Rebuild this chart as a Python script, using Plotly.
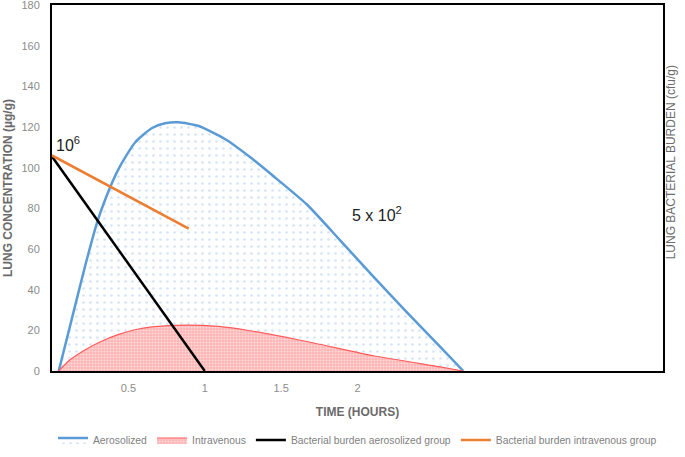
import plotly.graph_objects as go

# Time (hours) and lung concentration (µg/g)
aero_time = [0.044, 0.131, 0.218, 0.295, 0.349, 0.437, 0.545, 0.655, 0.740, 0.829,
             0.960, 1.135, 1.309, 1.447, 1.667, 1.885, 2.104, 2.322, 2.540, 2.693]
aero_conc = [0, 26, 52, 73, 84.5, 99.5, 112.5, 119.5, 121.8, 122.3,
             120.5, 114, 104.5, 96, 82, 64.4, 46.4, 29, 12, 0]

iv_time = [0.044, 0.118, 0.218, 0.314, 0.437, 0.543, 0.655, 0.873, 1.091, 1.296,
           1.667, 2.104, 2.540, 2.690]
iv_conc = [0, 5.5, 10.5, 14.3, 18, 20.3, 21.7, 22.6, 21.9, 19.8,
           14.5, 7.5, 2, 0]

# Bacterial burden lines (drawn on the secondary axis)
burden_aero_time = [0, 1.0]
burden_aero_val = [105.5, 0]
burden_iv_time = [0, 0.895]
burden_iv_val = [106, 70]

x_tickvals = [0.5, 1, 1.5, 2]
x_ticktext = ["0.5", "1", "1.5", "2"]
y_tickvals = [0, 20, 40, 60, 80, 100, 120, 140, 160, 180]

fig = go.Figure()

fig.add_trace(go.Scatter(
    x=aero_time, y=aero_conc, name="Aerosolized", mode="lines",
    line=dict(color="#5b9bd5", width=2.5, shape="spline", smoothing=0.6),
    fill="tozeroy", fillcolor="rgba(0,0,0,0)",
    fillpattern=dict(shape=".", fgcolor="#a9cbee", bgcolor="white", size=7, solidity=0.12),
))
fig.add_trace(go.Scatter(
    x=iv_time, y=iv_conc, name="Intravenous", mode="lines",
    line=dict(color="#ff5a5a", width=1.2, shape="spline", smoothing=0.5),
    fill="tozeroy", fillcolor="rgba(0,0,0,0)",
    fillpattern=dict(shape=".", fgcolor="white", bgcolor="#ffb4b4", size=3, solidity=0.4),
))
fig.add_trace(go.Scatter(
    x=burden_aero_time, y=burden_aero_val, name="Bacterial burden aerosolized group",
    mode="lines", line=dict(color="black", width=2.5), yaxis="y2",
))
fig.add_trace(go.Scatter(
    x=burden_iv_time, y=burden_iv_val, name="Bacterial burden intravenous group",
    mode="lines", line=dict(color="#ed7d31", width=2.5), yaxis="y2",
))

axis_font = dict(family="Liberation Sans, Arial", size=11, color="#8c8c8c")
title_font = dict(family="Liberation Sans, Arial", size=12, color="#6b6b6b")

fig.update_layout(
    width=685, height=457,
    margin=dict(l=52, r=22, t=5, b=86, autoexpand=False),
    plot_bgcolor="white", paper_bgcolor="white",
    showlegend=True,
    legend=dict(orientation="h", x=0.5, xanchor="center", y=-0.1885, yanchor="middle",
                font=dict(family="Liberation Sans, Arial", size=10.3, color="#7f7f7f"),
                itemwidth=30, tracegroupgap=0),
    xaxis=dict(range=[0, 4], tickvals=x_tickvals, ticktext=x_ticktext, automargin=False,
               showgrid=False, zeroline=False, ticks="", tickfont=axis_font,
               ticklabelstandoff=6, ticklabeloverflow="allow",
               showline=True, linecolor="black", linewidth=2, mirror=True,
               title=dict(text="<b>TIME (HOURS)</b>", font=title_font, standoff=14)),
    yaxis=dict(range=[0, 180], tickvals=y_tickvals, showgrid=False, zeroline=False,
               automargin=False, ticklabeloverflow="allow",
               ticks="", tickfont=axis_font, ticklabelstandoff=8,
               showline=True, linecolor="black", linewidth=2, mirror=True,
               title=dict(text="<b>LUNG CONCENTRATION (µg/g)</b>", font=title_font, standoff=6)),
    yaxis2=dict(range=[0, 180], overlaying="y", side="right", showgrid=False,
                automargin=False,
                zeroline=False, showticklabels=False, ticks=""),
    annotations=[
        dict(text="10<sup>6</sup>", x=0.01, y=105.5, xref="x", yref="y", xanchor="left",
             yanchor="bottom", showarrow=False,
             font=dict(family="Liberation Sans, Arial", size=16, color="#222222")),
        dict(text="5 x 10<sup>2</sup>", x=2.128, y=77, xref="x", yref="y", xanchor="center",
             yanchor="middle", showarrow=False,
             font=dict(family="Liberation Sans, Arial", size=16, color="#222222")),
        dict(text="LUNG BACTERIAL BURDEN (cfu/g)", textangle=-90, x=1.013, y=0.57,
             xref="paper", yref="paper", xanchor="center", yanchor="middle", showarrow=False,
             font=dict(family="Liberation Sans, Arial", size=12, color="#6b6b6b")),
    ],
)

fig.write_html("out.html", config={"displayModeBar": False},
               post_script="document.body.style.margin='0';")
